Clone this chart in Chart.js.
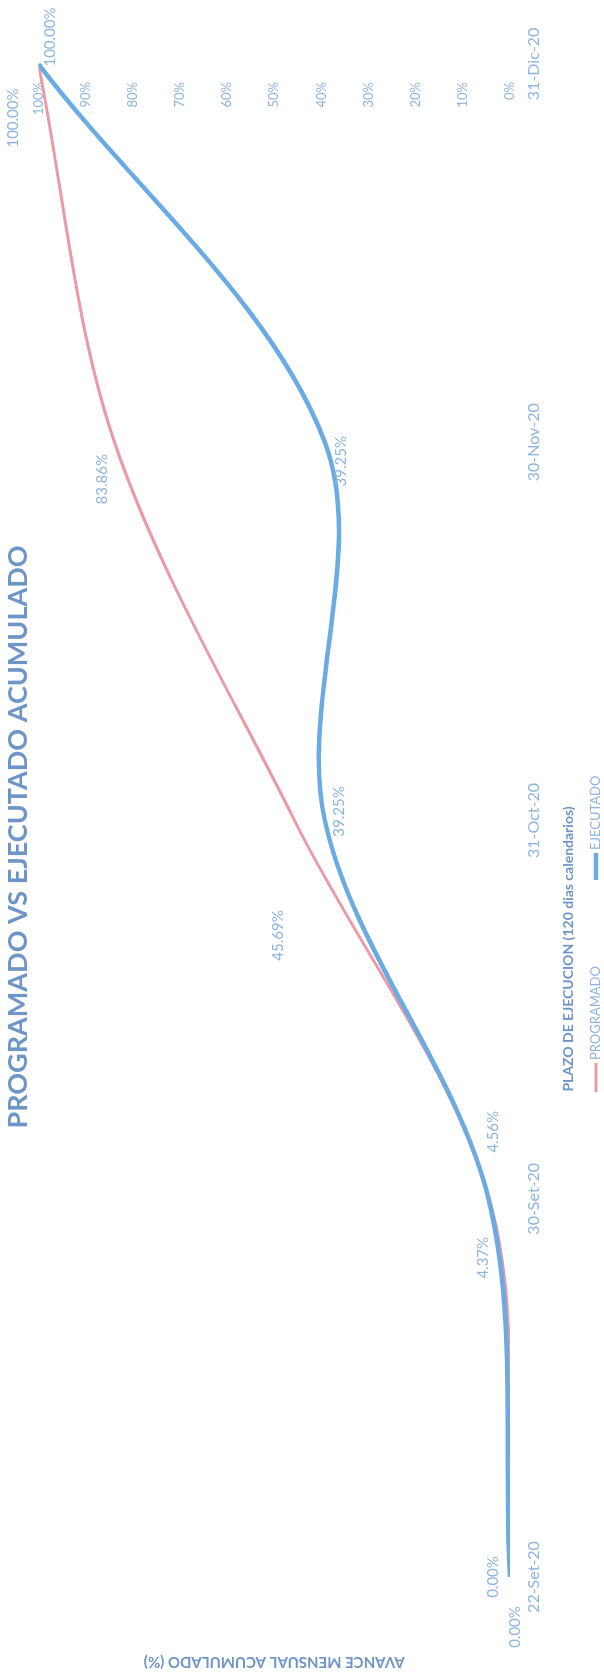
<!DOCTYPE html>
<html lang="es">
<head>
  <meta charset="UTF-8" />
  <title>Programado vs Ejecutado Acumulado</title>
  <script src="https://cdn.jsdelivr.net/npm/chart.js"></script>
  <style>
    html, body { margin: 0; padding: 0; background: #fff; }
    body { width: 604px; height: 1674px; overflow: hidden; position: relative; }
    /* the chart is drawn landscape and turned a quarter turn, like the scanned page */
    #wrap {
      position: absolute; left: 0; top: 0;
      width: 1674px; height: 604px;
      transform-origin: 0 0;
      transform: translateY(1674px) rotate(-90deg);
    }
  </style>
</head>
<body>
  <div id="wrap"><canvas id="avance" width="1674" height="604"></canvas></div>

  <script>
    const fechas = ['22-Set-20', '30-Set-20', '31-Oct-20', '30-Nov-20', '31-Dic-20'];
    const programado = [0, 4.37, 45.69, 83.86, 100];
    const ejecutado = [0, 4.56, 39.25, 39.25, 100];

    const azulTexto = '#8DB4E2';
    const azulTitulo = '#6E95C8';
    const rojo = '#E99AA4';
    const azul = '#6AABE4';

    // where each value label sits relative to its point (dataset -> point)
    const labelOffsets = [
      [[-50, 5], [-59, -6], [-115, -16], [-37, -12], [-54, -25]],
      [[0, -17], [67, 5], [9, 14], [-19, 16], [27, 12]]
    ];

    Chart.defaults.font.family = 'Lato, "Open Sans", sans-serif';

    const extras = {
      id: 'extras',
      afterDatasetsDraw(chart) {
        const ctx = chart.ctx;
        ctx.save();

        // value labels
        ctx.font = '15px Lato';
        ctx.fillStyle = azulTexto;
        ctx.textAlign = 'center';
        ctx.textBaseline = 'middle';
        chart.data.datasets.forEach((ds, i) => {
          chart.getDatasetMeta(i).data.forEach((pt, j) => {
            const [dx, dy] = labelOffsets[i][j];
            ctx.fillText(ds.data[j].toFixed(2) + '%', pt.x + dx, pt.y + dy);
          });
        });

        // x axis title
        ctx.font = 'bold 14px Lato';
        ctx.fillStyle = azulTitulo;
        ctx.fillText('PLAZO DE EJECUCION (120 dias calendarios)', 725, 568);

        // legend
        ctx.textAlign = 'left';
        ctx.font = '13px Lato';
        ctx.fillStyle = azulTexto;
        ctx.lineCap = 'butt';
        ctx.strokeStyle = rojo; ctx.lineWidth = 3;
        ctx.beginPath(); ctx.moveTo(582, 596); ctx.lineTo(611, 596); ctx.stroke();
        ctx.fillText('PROGRAMADO', 614, 596);
        ctx.strokeStyle = azul; ctx.lineWidth = 4.5;
        ctx.beginPath(); ctx.moveTo(794, 596); ctx.lineTo(821, 596); ctx.stroke();
        ctx.fillText('EJECUTADO', 824, 596);

        ctx.restore();
      }
    };

    new Chart(document.getElementById('avance'), {
      type: 'line',
      data: {
        labels: fechas,
        datasets: [
          { label: 'PROGRAMADO', data: programado, borderColor: rojo, borderWidth: 3, order: 1 },
          { label: 'EJECUTADO', data: ejecutado, borderColor: azul, borderWidth: 4.5, order: 0 }
        ]
      },
      options: {
        responsive: false,
        animation: false,
        elements: {
          point: { radius: 0 },
          line: { tension: 0.33, fill: false, capBezierPoints: false }
        },
        layout: { padding: 0 },
        plugins: {
          legend: { display: false },
          tooltip: { enabled: false },
          title: {
            display: true,
            text: 'PROGRAMADO VS EJECUTADO ACUMULADO',
            color: azulTitulo,
            font: { size: 27, weight: 'bold' },
            padding: { top: 2, bottom: 4 }
          }
        },
        scales: {
          x: {
            grid: { display: false, drawTicks: false },
            border: { display: false },
            ticks: { color: azulTexto, font: { size: 16 }, padding: 14, maxRotation: 0, autoSkip: false },
            afterFit(s) { s.height = 94; }
          },
          y: {
            position: 'left',
            min: 0, max: 100,
            grid: { display: false },
            border: { display: false },
            ticks: { display: false },
            title: {
              display: true,
              text: 'AVANCE MENSUAL ACUMULADO (%)',
              color: azulTitulo,
              font: { size: 15, weight: 'bold' },
              padding: { top: 3, bottom: 0 }
            },
            afterFit(s) { s.width = 97; }
          },
          y2: {
            position: 'right',
            min: 0, max: 100,
            grid: { display: false },
            border: { display: false },
            ticks: {
              stepSize: 10,
              mirror: true,
              padding: -18,
              color: azulTexto,
              font: { size: 13 },
              callback: v => v + '%'
            },
            afterFit(s) { s.width = 64; }
          }
        }
      },
      plugins: [extras]
    });
  </script>
</body>
</html>
